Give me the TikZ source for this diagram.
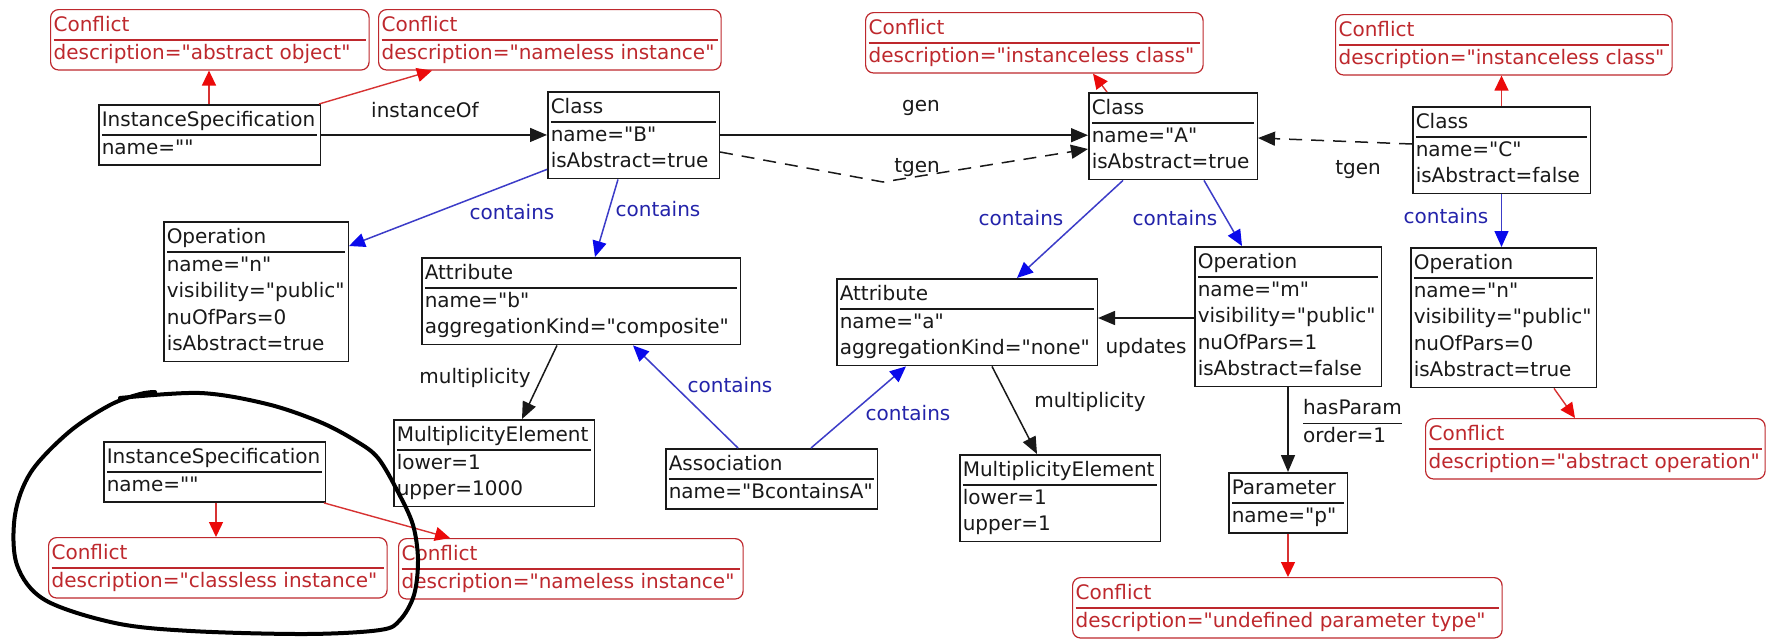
\documentclass[tikz,border=0pt]{standalone}
\usepackage{fontspec}
\setmainfont{DejaVu Sans}[Ligatures=TeXOff]
\usetikzlibrary{arrows.meta,calc}

\definecolor{ink}{RGB}{25,25,25}
\definecolor{confred}{RGB}{190,40,45}
\definecolor{linkred}{RGB}{215,50,50}
\definecolor{tipred}{RGB}{235,10,10}
\definecolor{linkblue}{RGB}{60,60,200}
\definecolor{tipblue}{RGB}{10,10,235}
\definecolor{labelblue}{RGB}{35,35,170}

\setlength\arrayrulewidth{1.4pt}
\newcommand\boxfont{\fontsize{20}{26.5}\selectfont}
% object box body: fixed outer width, title, rule, then the slot rows
\newcommand\uml[3]{\begin{tabular}{@{}l@{}}\makebox[\dimexpr#1pt-7.5pt\relax][l]{#2}\\\hline #3\end{tabular}}

\tikzset{
  obj/.style={draw=ink, line width=1.5pt, fill=white, inner sep=3pt, anchor=north west, font=\boxfont, text=ink},
  conf/.style={draw=confred, line width=1.2pt, rounded corners=8pt, fill=white, inner sep=3pt, anchor=north west, font=\boxfont, text=confred},
  lbl/.style={font=\boxfont, text=ink, inner sep=1pt},
  bluelbl/.style={font=\boxfont, text=labelblue, inner sep=1pt},
  blk/.style={draw=ink, line width=1.5pt, -{Triangle[length=17pt,width=14pt]}},
  blkdash/.style={blk, dash pattern=on 13pt off 9pt},
  bluearr/.style={draw=linkblue, line width=1.5pt, -{Triangle[length=16pt,width=14pt,color=tipblue]}},
  redarr/.style={draw=linkred, line width=1.4pt, -{Triangle[length=15pt,width=14pt,color=tipred]}},
  scribble/.style={draw=black, line width=4pt, line cap=round, line join=round},
}

\begin{document}
\begin{tikzpicture}[x=1pt,y=-1pt]
\fill[white] (0,0) rectangle (1767,638);
\useasboundingbox (0,0) rectangle (1767,638);

% ---- conflicts along the top
\node[conf] (ConfAO)  at (50,9)    {\uml{320}{Conflict}{description="abstract object"}};
\node[conf] (ConfNI1) at (378,9)   {\uml{344}{Conflict}{description="nameless instance"}};
\node[conf] (ConfA)   at (865,12)  {\uml{339}{Conflict}{description="instanceless class"}};
\node[conf] (ConfC)   at (1335,14) {\uml{338}{Conflict}{description="instanceless class"}};

% ---- classes and instances
\node[obj] (IS1)    at (98,104)   {\uml{223}{InstanceSpecification}{name=""}};
\node[obj] (ClassB) at (547,91)   {\uml{173}{Class}{name="B"\\isAbstract=true}};
\node[obj] (ClassA) at (1088,92)  {\uml{170}{Class}{name="A"\\isAbstract=true}};
\node[obj] (ClassC) at (1412,106) {\uml{179}{Class}{name="C"\\isAbstract=false}};

% ---- features
\node[obj] (OpN1)  at (163,221)  {\uml{186}{Operation}{name="n"\\visibility="public"\\nuOfPars=0\\isAbstract=true}};
\node[obj] (AttrB) at (421,257)  {\uml{320}{Attribute}{name="b"\\aggregationKind="composite"}};
\node[obj] (AttrA) at (836,278)  {\uml{262}{Attribute}{name="a"\\aggregationKind="none"}};
\node[obj] (OpM)   at (1194,246) {\uml{188}{Operation}{name="m"\\visibility="public"\\nuOfPars=1\\isAbstract=false}};
\node[obj] (OpN2)  at (1410,247) {\uml{187}{Operation}{name="n"\\visibility="public"\\nuOfPars=0\\isAbstract=true}};

\node[obj] (ME1)   at (393,419)  {\uml{202}{MultiplicityElement}{lower=1\\upper=1000}};
\node[obj] (Assoc) at (665,448)  {\uml{213}{Association}{name="BcontainsA"}};
\node[obj] (ME2)   at (959,454)  {\uml{202}{MultiplicityElement}{lower=1\\upper=1}};
\node[obj] (Param) at (1228,472) {\uml{120}{Parameter}{name="p"}};

\node[conf] (ConfAOp) at (1425,418) {\uml{341}{Conflict}{description="abstract operation"}};
\node[conf] (ConfUP)  at (1072,577) {\uml{431}{Conflict}{description="undefined parameter type"}};

% ---- the lone instance
\node[obj]  (IS2)     at (103,441) {\uml{223}{InstanceSpecification}{name=""}};
\node[conf] (ConfCI)  at (48,537)  {\uml{340}{Conflict}{description="classless instance"}};
\node[conf] (ConfNI2) at (398,538) {\uml{346}{Conflict}{description="nameless instance"}};

% ---- conflict links
\draw[redarr] ($(IS1.north west)+(111,0)$) -- ($(ConfAO.south west)+(159,0)$);
\draw[redarr] ($(IS1.north east)+(-2,0)$) -- ($(ConfNI1.south west)+(54,0)$);
\draw[redarr] ($(ClassA.north west)+(19,0)$) -- ($(ConfA.south west)+(228,0)$);
\draw[redarr] (ClassC.north) -- (ClassC.north |- ConfC.south);
\draw[redarr] ($(OpN2.south west)+(144,0)$) -- ($(ConfAOp.north west)+(150,0)$);
\draw[redarr] (Param.south) -- (Param.south |- ConfUP.north);
\draw[redarr] ($(IS2.south west)+(113,0)$) coordinate (is2a) -- (is2a |- ConfCI.north);
\draw[redarr] ($(IS2.south east)+(-2,0)$) -- ($(ConfNI2.north west)+(52,0)$);

% ---- black relations
\draw[blk] (IS1.east) -- (IS1.east -| ClassB.west);
\node[lbl] (lInst) at (425,110) {instanceOf};
\draw[blk] (ClassB.east) -- (ClassB.east -| ClassA.west);
\node[lbl] (lGen) at (921,108) {gen};
\coordinate (tgbend) at (883,182);
\draw[blkdash] ($(ClassB.north east)+(0,61)$) -- (tgbend) -- ($(ClassA.north west)+(0,57)$);
\node[lbl] (lTgen1) at (917,168) {tgen};
\draw[blkdash] ($(ClassC.north west)+(0,38)$) -- ($(ClassA.north east)+(0,46)$);
\node[lbl] (lTgen2) at (1358,170) {tgen};

\draw[blk] ($(AttrB.south west)+(136,0)$) -- ($(ME1.north west)+(129,0)$);
\node[lbl] (lMul1) at (475,378) {multiplicity};
\draw[blk] ($(AttrA.south west)+(156,0)$) -- ($(ME2.north west)+(78,0)$);
\node[lbl] (lMul2) at (1090,402) {multiplicity};
\draw[blk] ($(OpM.north west)+(0,72)$) coordinate (upd) -- (upd -| AttrA.east);
\node[lbl] (lUpd) at (1146,348) {updates};
\draw[blk] (Param.north |- OpM.south) -- (Param.north);
\node[lbl, inner sep=0pt, anchor=north west] (lHas) at (1303,396)
  {\begin{tabular}{@{}l@{}}hasParam\\\hline order=1\end{tabular}};

% ---- containment
\draw[bluearr] ($(ClassB.south west)+(0,-10)$) -- ($(OpN1.north east)+(0,25)$);
\node[bluelbl] (lC1) at (512,212) {contains};
\draw[bluearr] ($(ClassB.south west)+(71,0)$) -- ($(AttrB.north west)+(174,0)$);
\node[bluelbl] (lC2) at (658,209) {contains};
\draw[bluearr] ($(ClassA.south west)+(35,0)$) -- ($(AttrA.north west)+(181,0)$);
\node[bluelbl] (lC3) at (1021,218) {contains};
\draw[bluearr] ($(ClassA.south west)+(116,0)$) -- ($(OpM.north west)+(48,0)$);
\node[bluelbl] (lC4) at (1175,218) {contains};
\draw[bluearr] (ClassC.south) -- (ClassC.south |- OpN2.north);
\node[bluelbl] (lC5) at (1446,216) {contains};
\draw[bluearr] ($(Assoc.north west)+(73,0)$) -- ($(AttrB.south west)+(212,0)$);
\node[bluelbl] (lC6) at (730,385) {contains};
\draw[bluearr] ($(Assoc.north west)+(146,0)$) -- ($(AttrA.south west)+(70,0)$);
\node[bluelbl] (lC7) at (908,413) {contains};

% ---- hand-drawn ring around the lone instance
\draw[scribble] plot[smooth, tension=0.55] coordinates {
  (120,398) (200,393) (267,404) (320,422) (356,441) (378,458) (398,492)
  (413,525) (418,560) (414,595) (400,620) (380,630) (306,634) (191,631)
  (115,623) (45,600) (17,565) (15,515) (31,472) (69,432) (110,405)
  (140,394) (155,392)};
\end{tikzpicture}
\end{document}
